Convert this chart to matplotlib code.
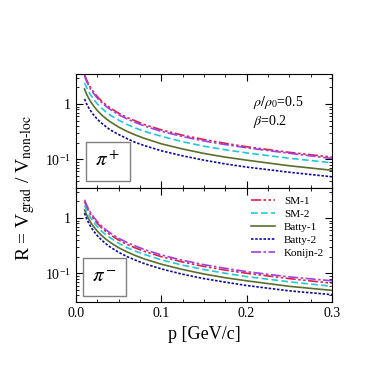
import matplotlib
matplotlib.use("Agg")
import matplotlib.pyplot as plt
from matplotlib.ticker import MultipleLocator, LogLocator, NullFormatter
import numpy as np

plt.rcParams['font.family'] = ['Liberation Serif', 'DejaVu Serif']
plt.rcParams['mathtext.fontset'] = 'stix'

# momentum grid (GeV/c)
p = [0.01, 0.0125, 0.015, 0.0175, 0.02, 0.025, 0.03, 0.035, 0.04, 0.05,
     0.06, 0.07, 0.08, 0.1, 0.125, 0.15, 0.175, 0.2, 0.25, 0.3]

# pi+ panel
pp_sm1 = [3.4, 2.72, 2.27, 1.94, 1.70, 1.36, 1.13, 0.97, 0.85, 0.68,
          0.57, 0.49, 0.425, 0.34, 0.272, 0.227, 0.194, 0.168, 0.133, 0.109]
pp_k2 = [3.2, 2.56, 2.13, 1.83, 1.60, 1.28, 1.07, 0.91, 0.80, 0.64,
         0.535, 0.46, 0.40, 0.32, 0.257, 0.214, 0.184, 0.161, 0.128, 0.103]
pp_sm2 = [2.4, 1.97, 1.66, 1.43, 1.26, 1.0, 0.84, 0.72, 0.63, 0.51,
          0.425, 0.365, 0.32, 0.26, 0.207, 0.172, 0.148, 0.13, 0.104, 0.086]
pp_b1 = [1.87, 1.5, 1.26, 1.08, 0.95, 0.76, 0.635, 0.545, 0.477, 0.382,
         0.318, 0.273, 0.239, 0.19, 0.153, 0.127, 0.109, 0.096, 0.076, 0.063]
pp_b2 = [1.23, 1.0, 0.85, 0.74, 0.65, 0.53, 0.45, 0.39, 0.34, 0.28,
         0.235, 0.2, 0.177, 0.142, 0.115, 0.096, 0.082, 0.072, 0.058, 0.048]

# pi- panel
pm_k2 = [2.15, 1.72, 1.43, 1.23, 1.08, 0.86, 0.72, 0.615, 0.54, 0.43,
         0.36, 0.31, 0.27, 0.215, 0.172, 0.143, 0.123, 0.107, 0.086, 0.073]
pm_sm1 = [2.0, 1.6, 1.33, 1.14, 1.0, 0.8, 0.67, 0.57, 0.5, 0.4,
          0.333, 0.286, 0.25, 0.2, 0.16, 0.133, 0.114, 0.1, 0.08, 0.066]
pm_sm2 = [1.7, 1.38, 1.16, 0.99, 0.87, 0.7, 0.58, 0.5, 0.44, 0.35,
          0.29, 0.25, 0.22, 0.175, 0.14, 0.117, 0.1, 0.087, 0.07, 0.058]
pm_b1 = [1.4, 1.14, 0.96, 0.82, 0.72, 0.58, 0.485, 0.415, 0.364, 0.29,
         0.243, 0.208, 0.182, 0.146, 0.117, 0.097, 0.083, 0.073, 0.058, 0.049]
pm_b2 = [1.23, 0.97, 0.81, 0.69, 0.6, 0.48, 0.4, 0.343, 0.3, 0.24,
         0.2, 0.172, 0.15, 0.12, 0.096, 0.08, 0.069, 0.06, 0.048, 0.041]

labels = ["SM-1", "SM-2", "Batty-1", "Batty-2", "Konijn-2"]
colors = ["#e0204a", "#20c8d8", "#5a6e2e", "#0a0aa0", "#a040e0"]
styles = [(0, (6, 1.5, 1.5, 1.5, 1.5, 1.5)), (0, (4, 2)), "-", (0, (1.5, 1)),
          (0, (6, 1.5, 1.5, 1.5))]

fig = plt.figure(figsize=(3.68, 3.68), dpi=100)
ax1 = fig.add_axes([0.2065, 0.489, 0.6955, 0.310])
ax2 = fig.add_axes([0.2065, 0.179, 0.6955, 0.310], sharex=ax1)

for ax, ys in [(ax1, [pp_sm1, pp_sm2, pp_b1, pp_b2, pp_k2]),
               (ax2, [pm_sm1, pm_sm2, pm_b1, pm_b2, pm_k2])]:
    for y, lab, c, ls in zip(ys, labels, colors, styles):
        ax.plot(p, y, color=c, linestyle=ls, lw=1.2, label=lab)
    ax.set_yscale("log")
    ax.set_xlim(0, 0.3)
    ax.set_ylim(0.03, 3.5)
    ax.xaxis.set_major_locator(MultipleLocator(0.1))
    ax.xaxis.set_minor_locator(MultipleLocator(0.025))
    ax.set_yticks([0.1, 1])
    ax.set_yticklabels([r"10$^{\mathregular{-1}}$", "1"])
    ax.yaxis.set_minor_locator(LogLocator(base=10, subs=np.arange(2, 10)))
    ax.yaxis.set_minor_formatter(NullFormatter())
    ax.tick_params(which="both", direction="in", top=True, right=True,
                   labelsize=10)
    ax.tick_params(which="major", length=5)
    ax.tick_params(which="minor", length=2.5)

ax1.tick_params(labelbottom=False)
ax2.set_xticks([0.0, 0.1, 0.2, 0.3])
ax2.set_xticklabels(["0.0", "0.1", "0.2", "0.3"])

ax1.text(0.69, 0.72, r"$\rho/\rho_0$=0.5", transform=ax1.transAxes, fontsize=10)
ax1.text(0.69, 0.55, r"$\beta$=0.2", transform=ax1.transAxes, fontsize=10)

ax1.text(0.125, 0.232, r"$\pi^+$", transform=ax1.transAxes, fontsize=15,
         ha="center", va="center",
         bbox=dict(boxstyle="square,pad=0.45", fc="white", ec="gray", lw=1))
ax2.text(0.111, 0.22, r"$\pi^-$", transform=ax2.transAxes, fontsize=15,
         ha="center", va="center",
         bbox=dict(boxstyle="square,pad=0.45", fc="white", ec="gray", lw=1))

ax2.legend(loc="upper right", frameon=False, fontsize=8, handlelength=2.2,
           labelspacing=0.3, borderaxespad=0.3)

ax2.set_xlabel("p [GeV/c]", fontsize=13)
fig.text(0.07, 0.49, r"R = V$_{\rm grad}$ / V$_{\rm non\text{-}loc}$",
         rotation=90, fontsize=14, ha="center", va="center")

plt.savefig("out.png", dpi=100)
